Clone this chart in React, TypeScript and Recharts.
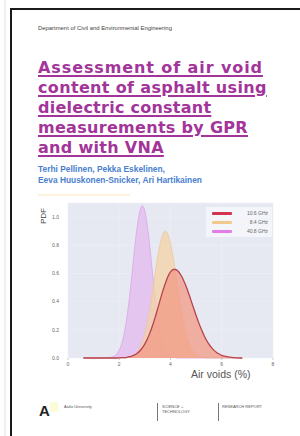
import React from 'react';
import { AreaChart, Area, XAxis, YAxis, CartesianGrid } from 'recharts';

const airVoids = [
  0.6, 0.7, 0.8, 0.9, 1.0, 1.1, 1.2, 1.3, 1.4, 1.5,
  1.6, 1.7, 1.8, 1.9, 2.0, 2.1, 2.2, 2.3, 2.4, 2.5,
  2.6, 2.7, 2.8, 2.9, 3.0, 3.1, 3.2, 3.3, 3.4, 3.5,
  3.6, 3.7, 3.8, 3.9, 4.0, 4.1, 4.2, 4.3, 4.4, 4.5,
  4.6, 4.7, 4.8, 4.9, 5.0, 5.1, 5.2, 5.3, 5.4, 5.5,
  5.6, 5.7, 5.8, 5.9, 6.0, 6.1, 6.2, 6.3, 6.4, 6.5,
  6.6, 6.7, 6.8,
];

const pdf408 = [
  0, 0, 0, 0, 0, 0, 0, 0, 0, 0,
  0.002, 0.006, 0.013, 0.028, 0.056, 0.104, 0.18, 0.29, 0.433, 0.602,
  0.777, 0.933, 1.041, 1.08, 1.041, 0.933, 0.777, 0.602, 0.433, 0.29,
  0.18, 0.104, 0.056, 0.028, 0.013, 0.006, 0.002, 0, 0, 0,
  0, 0, 0, 0, 0, 0, 0, 0, 0, 0,
  0, 0, 0, 0, 0, 0, 0, 0, 0, 0,
  0, 0, 0,
];

const pdf84 = [
  0, 0, 0, 0, 0, 0, 0, 0, 0, 0,
  0, 0, 0, 0, 0, 0, 0, 0.003, 0.006, 0.012,
  0.023, 0.041, 0.07, 0.114, 0.176, 0.258, 0.36, 0.476, 0.599, 0.716,
  0.813, 0.877, 0.9, 0.877, 0.813, 0.716, 0.599, 0.476, 0.36, 0.258,
  0.176, 0.114, 0.07, 0.041, 0.023, 0.012, 0.006, 0.003, 0, 0,
  0, 0, 0, 0, 0, 0, 0, 0, 0, 0,
  0, 0, 0,
];

const pdf106 = [
  0, 0, 0, 0, 0, 0, 0, 0, 0, 0,
  0, 0, 0, 0, 0.001, 0.002, 0.003, 0.005, 0.009, 0.014,
  0.022, 0.034, 0.05, 0.072, 0.1, 0.136, 0.18, 0.231, 0.288, 0.35,
  0.414, 0.476, 0.531, 0.578, 0.611, 0.628, 0.628, 0.616, 0.591, 0.556,
  0.512, 0.463, 0.409, 0.355, 0.301, 0.251, 0.205, 0.163, 0.128, 0.098,
  0.074, 0.054, 0.039, 0.028, 0.019, 0.013, 0.009, 0.006, 0.004, 0.002,
  0.001, 0, 0,
];

const xTicks = [0, 2, 4, 6, 8];
const yTicks = [0, 0.2, 0.4, 0.6, 0.8, 1.0];

const legendItems = [
  { label: '10.6 GHz', color: '#d2344f' },
  { label: '8.4 GHz', color: '#f2c98a' },
  { label: '40.8 GHz', color: '#e27ce6' },
];

const titleLines = [
  'Assessment of air void',
  'content of asphalt using',
  'dielectric constant',
  'measurements by GPR',
  'and with VNA',
];
const titleSpacing = [0.9, 0.35, 0.25, 0.3, 0.3];

const authorLines = [
  'Terhi Pellinen, Pekka Eskelinen,',
  'Eeva Huuskonen-Snicker, Ari Hartikainen',
];

const data = airVoids.map((x, i) => ({
  x,
  a: pdf408[i],
  b: pdf84[i],
  c: pdf106[i],
}));

const tickStyle = { fontSize: 5, fill: '#666', fontFamily: 'Liberation Sans, Arial, sans-serif' };

export default function App() {
  return (
    <div
      style={{
        position: 'absolute',
        left: 0,
        top: 0,
        width: 300,
        height: 436,
        background: '#fff',
        overflow: 'hidden',
        fontFamily: 'Liberation Sans, Arial, sans-serif',
      }}
    >
      <div style={{ position: 'absolute', left: 4, top: 0, width: 2, height: 436, background: '#f0f0f0' }} />
      <div style={{ position: 'absolute', left: 10, top: 8, width: 290, height: 2, background: '#1a1a1a' }} />
      <div style={{ position: 'absolute', left: 10, top: 8, width: 2, height: 428, background: '#1a1a1a' }} />

      <div style={{ position: 'absolute', left: 38, top: 25, fontSize: 5.9, color: '#444', whiteSpace: 'nowrap' }}>
        Department of Civil and Environmental Engineering
      </div>

      <div style={{ position: 'absolute', left: 38, top: 58 }}>
        {titleLines.map((t, i) => (
          <div
            key={i}
            style={{
              fontFamily: 'DejaVu Sans, sans-serif',
              fontWeight: 'bold',
              fontSize: 16,
              lineHeight: '20px',
              height: 20,
              letterSpacing: titleSpacing[i],
              color: '#a3349a',
              textDecoration: 'underline',
              textDecorationThickness: 1.5,
              textUnderlineOffset: 2,
              whiteSpace: 'nowrap',
            }}
          >
            {t}
          </div>
        ))}
      </div>

      <div style={{ position: 'absolute', left: 38, top: 164 }}>
        {authorLines.map((t, i) => (
          <div key={i} style={{ fontSize: 8.4, lineHeight: '11px', fontWeight: 'bold', color: '#4a7fd0', whiteSpace: 'nowrap' }}>
            {t}
          </div>
        ))}
      </div>
      <div style={{ position: 'absolute', left: 38, top: 194, width: 92, height: 2, background: '#fbf3dc' }} />

      <div style={{ position: 'absolute', left: 0, top: 0 }}>
        <AreaChart width={300} height={436} data={data} margin={{ top: 203, right: 27, left: 48, bottom: 58 }}>
          <CartesianGrid fill="#e6e9f2" stroke="#eef0f6" strokeWidth={0.6} />
          <XAxis
            type="number"
            dataKey="x"
            domain={[0, 8]}
            ticks={xTicks}
            height={20}
            tick={tickStyle}
            tickLine={{ stroke: '#999', strokeWidth: 0.5 }}
            tickSize={2}
            axisLine={false}
          />
          <YAxis
            type="number"
            domain={[0, 1.1]}
            ticks={yTicks}
            width={20}
            tick={tickStyle}
            tickFormatter={(v: number) => v.toFixed(1)}
            tickLine={false}
            axisLine={false}
            tickMargin={3}
          />
          <Area
            type="monotone"
            dataKey="a"
            stroke="#d9a6e4"
            strokeWidth={0.8}
            fill="#e3b8ee"
            fillOpacity={0.75}
            isAnimationActive={false}
          />
          <Area
            type="monotone"
            dataKey="b"
            stroke="#eec79a"
            strokeWidth={0.8}
            fill="#f3d2a4"
            fillOpacity={0.75}
            isAnimationActive={false}
          />
          <Area
            type="monotone"
            dataKey="c"
            stroke="#b8424e"
            strokeWidth={1.3}
            fill="#f39a86"
            fillOpacity={0.75}
            isAnimationActive={false}
          />
        </AreaChart>
      </div>

      <div
        style={{
          position: 'absolute',
          left: 43,
          top: 216,
          transform: 'translate(-50%, -50%) rotate(-90deg)',
          fontSize: 8,
          color: '#444',
        }}
      >
        PDF
      </div>

      <div
        style={{
          position: 'absolute',
          left: 206,
          top: 207,
          width: 66,
          height: 30,
          background: 'rgba(246,247,251,0.8)',
        }}
      >
        {legendItems.map((it, i) => (
          <div key={i} style={{ position: 'absolute', left: 0, top: 4 + i * 9, width: 64, height: 6 }}>
            <div style={{ position: 'absolute', left: 6, top: 1, width: 20, height: 3, background: it.color, borderRadius: 1 }} />
            <div style={{ position: 'absolute', right: 2, top: -1, fontSize: 5, color: '#666', whiteSpace: 'nowrap' }}>{it.label}</div>
          </div>
        ))}
      </div>

      <div style={{ position: 'absolute', left: 191, top: 368, fontSize: 10.5, color: '#555', whiteSpace: 'nowrap' }}>
        Air voids (%)
      </div>

      <div style={{ position: 'absolute', left: 39, top: 402, fontSize: 15, fontWeight: 'bold', color: '#222' }}>
        A
      </div>
      <div style={{ position: 'absolute', left: 50, top: 402, width: 8, height: 10, background: '#fbfbd8' }} />
      <div style={{ position: 'absolute', left: 64, top: 404, fontSize: 4, color: '#555', whiteSpace: 'nowrap' }}>Aalto University</div>
      <div style={{ position: 'absolute', left: 157, top: 403, width: 1, height: 18, background: '#777' }} />
      <div style={{ position: 'absolute', left: 162, top: 404, fontSize: 4, lineHeight: '5px', color: '#555', whiteSpace: 'nowrap' }}>
        SCIENCE +<br />TECHNOLOGY
      </div>
      <div style={{ position: 'absolute', left: 218, top: 403, width: 1, height: 18, background: '#777' }} />
      <div style={{ position: 'absolute', left: 222, top: 404, fontSize: 4, color: '#555', whiteSpace: 'nowrap' }}>RESEARCH REPORT</div>
    </div>
  );
}
